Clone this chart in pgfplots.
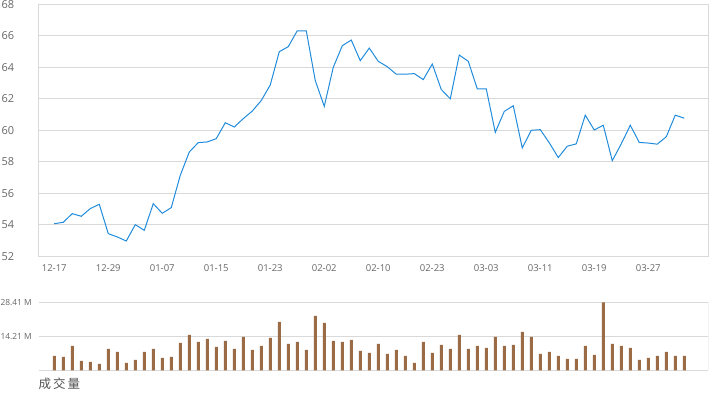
\documentclass[border=0pt]{standalone}
\usepackage{pgfplots}
\pgfplotsset{compat=1.18}
\usepackage{pgfplotstable}
\usepackage{fontspec}
\setmainfont{Open Sans}
\newfontfamily\cjk{Noto Sans CJK SC}
\definecolor{lineblue}{RGB}{33,140,220}
\definecolor{barbrown}{RGB}{154,107,68}
\definecolor{gridc}{RGB}{217,217,217}
\definecolor{labc}{RGB}{102,102,102}

\pgfplotstableread{
i v
0 54.07
1 54.16
2 54.71
3 54.54
4 55.03
5 55.30
6 53.44
7 53.23
8 52.97
9 54.01
10 53.65
11 55.34
12 54.73
13 55.09
14 57.14
15 58.62
16 59.22
17 59.26
18 59.47
19 60.48
20 60.21
21 60.74
22 61.22
23 61.89
24 62.88
25 64.99
26 65.31
27 66.32
28 66.32
29 63.16
30 61.52
31 64.00
32 65.37
33 65.73
34 64.42
35 65.22
36 64.38
37 64.04
38 63.56
39 63.56
40 63.60
41 63.22
42 64.21
43 62.59
44 62.00
45 64.78
46 64.38
47 62.63
48 62.63
49 59.87
50 61.20
51 61.56
52 58.88
53 60.00
54 60.04
55 59.21
56 58.27
57 58.99
58 59.14
59 60.96
60 60.02
61 60.32
62 58.07
63 59.14
64 60.32
65 59.23
66 59.19
67 59.12
68 59.59
69 60.96
70 60.77
}\pricedata

\pgfplotstableread{
i v
0 5.99
1 5.57
2 10.17
3 3.90
4 3.48
5 2.65
6 8.92
7 7.66
8 3.06
9 4.32
10 7.66
11 8.92
12 5.15
13 5.57
14 11.42
15 14.77
16 11.84
17 13.10
18 9.75
19 12.26
20 8.92
21 13.93
22 8.50
23 10.17
24 13.51
25 20.20
26 11.01
27 11.84
28 8.50
29 22.71
30 19.78
31 12.26
32 11.84
33 12.68
34 8.08
35 7.24
36 11.01
37 6.83
38 8.50
39 5.99
40 3.06
41 11.84
42 7.24
43 10.59
44 8.92
45 14.77
46 8.92
47 10.17
48 9.33
49 13.93
50 10.17
51 10.59
52 16.02
53 13.93
54 6.83
55 7.66
56 5.99
57 4.74
58 4.74
59 10.17
60 6.41
61 28.41
62 11.01
63 10.17
64 9.33
65 4.32
66 5.15
67 5.99
68 7.66
69 5.99
70 5.99
}\voldata

\begin{document}
\begin{tikzpicture}[x=1pt,y=1pt]
\useasboundingbox (0,0) rectangle (720,392);
\begin{axis}[
  at={(38.7pt,135.7pt)}, anchor=south west,
  width=669.6pt, height=252pt, scale only axis,
  xmin=-1.73, xmax=72.67, ymin=52, ymax=68,
  ytick={52,54,...,68},
  xtick={0,6,...,66},
  xticklabels={12-17,12-29,01-07,01-15,01-23,02-02,02-10,02-23,03-03,03-11,03-19,03-27},
  ymajorgrids, grid style={gridc, line width=0.8pt},
  axis line style={gridc, line width=0.8pt},
  tick style={draw=none}, major tick length=0pt,
  /pgf/number format/assume math mode=true,
  yticklabel style={font=\fontsize{11}{13}\selectfont, text=labc, xshift=-21pt},
  xticklabel style={font=\fontsize{9.5}{11}\selectfont, text=labc, yshift=-4.5pt},
]
\addplot[lineblue, line width=1pt, mark=none] table[x=i,y=v] {\pricedata};
\end{axis}
\begin{axis}[
  at={(38.7pt,21.7pt)}, anchor=south west,
  width=669.6pt, height=68pt, scale only axis,
  xmin=-1.73, xmax=72.67, ymin=0, ymax=28.41,
  ytick={0,14.205,28.41}, yticklabels={,14.21 M,28.41 M},
  xtick=\empty,
  ymajorgrids, grid style={gridc, line width=0.8pt},
  axis line style={draw=none},
  tick style={draw=none}, major tick length=0pt,
  yticklabel style={font=\fontsize{8.4}{10}\selectfont, text=labc, xshift=-3.4pt},
]
\addplot[ybar, bar width=3pt, bar shift=0pt, fill=barbrown, draw=none] table[x=i,y=v] {\voldata};
\draw[gridc, line width=0.8pt] (rel axis cs:1,0) -- (rel axis cs:1,1);
\end{axis}
\node[anchor=west, inner sep=0pt, text=labc!80!black, font=\cjk\fontsize{12.5}{14}\selectfont] at (38.3,8) {成\,交\,量};
\end{tikzpicture}
\end{document}
